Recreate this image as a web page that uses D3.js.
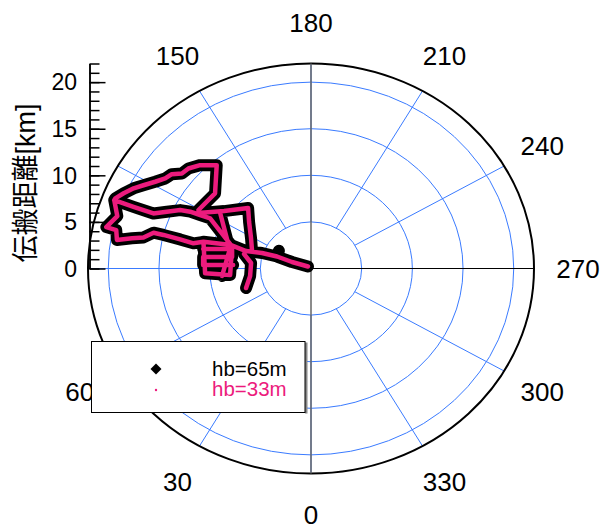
<!DOCTYPE html>
<html>
<head>
<meta charset="utf-8">
<script src="https://cdn.jsdelivr.net/npm/d3@7"></script>
<style>
  body { margin: 0; background: #fff; }
  svg { display: block; font-family: 'Liberation Sans', Arial, sans-serif; }
</style>
</head>
<body>
<div id="grafica"></div>
<script>
// anillos, radios y etiquetas del grafico polar
const ringValues = [5, 10, 15, 20]
const rMax = 22
const spokeAngles = d3.range(0, 360, 30)
const angleLabels = [0, 30, 60, 150, 180, 210, 240, 270, 300, 330]
const radialTicks = [0, 5, 10, 15, 20]
const seriesNames = ['hb=65m', 'hb=33m']
const axisTitle = '伝搬距離[km]'

// recorridos [angulo (grados), distancia (km)], null = corte
const hb65 = [
  [126, 0.37], [110.4, 2.0], [111.0, 3.59], [109.0, 5.11], [106.3, 6.67], [107.7, 8.28], null,
  [111.0, 3.59], [121.0, 3.70], null,
  [103.2, 6.78], [95.7, 5.94], [82.4, 6.06], [71.9, 6.74], null,
  [107.9, 6.11], [118.9, 6.76], [129.2, 7.88], [136.3, 8.98], [125.7, 10.56], [118.1, 12.62], null,
  [119.5, 12.75], [130.4, 12.43], [140.0, 14.47], [135.4, 15.58], [131.6, 16.17], [128.7, 16.32],
  [126.4, 17.06], [123.9, 17.33], [121.2, 17.97], [118.4, 18.79], [116.2, 19.50], [113.6, 20.17],
  [111.3, 20.72], [110.7, 20.75],
  [110.7, 18.72], [110.8, 16.63], [113.2, 15.47], [115.9, 14.35], [117.1, 13.39], [117.7, 12.35],
  [118.4, 11.31], [107.7, 8.28], null,
  [110.7, 20.75], [106.4, 19.92], [102.4, 20.68], [102.1, 19.65], [99.1, 19.39],
  [100.4, 17.96], [101.4, 16.86], [103.9, 16.00], [103.9, 14.99], [103.6, 13.28], [103.1, 11.91],
  [105.1, 10.99], [87.2, 10.46], [85.0, 8.01], [106.5, 8.12], null,
  [105.1, 10.99], [107.7, 8.28], null,
  [101.1, 10.84], [105.0, 8.06], [99.0, 7.88], [96.6, 10.71], [92.0, 10.65], [92.8, 7.69], null,
  [107.7, 8.28], [84.8, 8.81], null,
  [123.6, 10.76], [105.9, 8.40]
]

const hb33 = [
  [126, 0.37], [110.4, 2.0], [111.0, 3.59], [109.0, 5.11], [106.3, 6.67], [107.7, 8.28], null,
  [103.2, 6.78], [95.7, 5.94], [82.4, 6.06], [71.9, 6.74], null,
  [107.9, 6.11], [118.9, 6.76], [129.2, 7.88], [136.3, 8.98], [125.7, 10.56], [118.1, 12.62], null,
  [119.5, 12.75], [130.4, 12.43], [140.0, 14.47], [135.4, 15.58], [131.6, 16.17], [128.7, 16.32],
  [126.4, 17.06], [123.9, 17.33], [121.2, 17.97], [118.4, 18.79], [116.2, 19.50], [113.6, 20.17],
  [111.3, 20.72], [110.7, 20.75],
  [110.7, 18.72], [110.8, 16.63], [113.2, 15.47], [115.9, 14.35], [117.1, 13.39], [117.7, 12.35],
  [118.4, 11.31], [107.7, 8.28], null,
  [110.7, 20.75], [106.4, 19.92], [102.4, 20.68], [102.1, 19.65], [99.1, 19.39],
  [100.4, 17.96], [101.4, 16.86], [103.9, 16.00], [103.9, 14.99], [103.6, 13.28], [103.1, 11.91],
  [105.1, 10.99], [87.2, 10.46], [85.0, 8.01], [106.5, 8.12], null,
  [105.1, 10.99], [107.7, 8.28], null,
  [101.1, 10.84], [105.0, 8.06], [99.0, 7.88], [96.6, 10.71], [92.0, 10.65], [92.8, 7.69], null,
  [107.7, 8.28], [84.8, 8.81], null,
  [123.6, 10.76], [105.9, 8.40]
]

ancho_total = 604
alto_total = 532
cx = 311
cy = 268.5
azul = '#3a7bff'
rosa = '#ec1b7d'

svg = d3.select('#grafica')
  .append('svg')
  .attr('width', ancho_total)
  .attr('height', alto_total)

// escalas radiales (la grafica es algo eliptica)
rx = d3.scaleLinear().domain([0, rMax]).range([0, 223])
ry = d3.scaleLinear().domain([0, rMax]).range([0, 205])
y = d3.scaleLinear().domain([0, rMax]).range([cy, cy - 205])

// angulo 0 abajo, crece en sentido horario
px = (a, r) => cx - Math.sin(a * Math.PI / 180) * rx(r)
py = (a, r) => cy + Math.cos(a * Math.PI / 180) * ry(r)

// etiquetas de angulo
svg.append('g')
  .selectAll('text')
  .data(angleLabels)
  .enter()
  .append('text')
    .attr('x', (d) => cx - Math.sin(d * Math.PI / 180) * 267)
    .attr('y', (d) => cy + Math.cos(d * Math.PI / 180) * 246)
    .attr('dy', '0.36em')
    .attr('text-anchor', 'middle')
    .attr('font-size', '26px')
    .text((d) => d)

grid = svg.append('g')

grid.selectAll('ellipse')
  .data(ringValues)
  .enter()
  .append('ellipse')
    .attr('cx', cx)
    .attr('cy', cy)
    .attr('rx', (d) => rx(d))
    .attr('ry', (d) => ry(d))
    .attr('fill', 'none')
    .attr('stroke', azul)
    .attr('stroke-width', 1)

grid.selectAll('line')
  .data(spokeAngles)
  .enter()
  .append('line')
    .attr('x1', (d) => px(d, ringValues[0]))
    .attr('y1', (d) => py(d, ringValues[0]))
    .attr('x2', (d) => px(d, rMax))
    .attr('y2', (d) => py(d, rMax))
    .attr('stroke', azul)
    .attr('stroke-width', 1)

// borde exterior
svg.append('ellipse')
  .attr('cx', cx)
  .attr('cy', cy)
  .attr('rx', rx(rMax))
  .attr('ry', ry(rMax))
  .attr('fill', 'none')
  .attr('stroke', 'black')
  .attr('stroke-width', 2)

// ejes por el centro
svg.append('line')
  .attr('x1', cx).attr('x2', cx)
  .attr('y1', py(180, rMax)).attr('y2', py(0, rMax))
  .attr('stroke', '#666')
  .attr('stroke-width', 1.5)

svg.append('line')
  .attr('x1', cx).attr('x2', px(270, rMax))
  .attr('y1', cy).attr('y2', cy)
  .attr('stroke', 'black')
  .attr('stroke-width', 1.2)

// eje radial a la izquierda
ejeX = 89.5
yMinor = svg.append('g')
  .attr('transform', `translate(${ejeX},0)`)
  .call(d3.axisRight(y).tickValues(d3.range(0, rMax + 1)).tickSize(10).tickSizeOuter(0).tickFormat(''))
yMajor = svg.append('g')
  .attr('transform', `translate(${ejeX},0)`)
  .call(d3.axisRight(y).tickValues(radialTicks).tickSize(16).tickSizeOuter(0).tickFormat(''))
svg.selectAll('.tick line').attr('stroke', 'black').attr('stroke-width', 1.5)
svg.selectAll('.domain').attr('stroke', 'black').attr('stroke-width', 1.5)

svg.append('g')
  .selectAll('text')
  .data(radialTicks)
  .enter()
  .append('text')
    .attr('x', 77)
    .attr('y', (d) => y(d))
    .attr('dy', '0.36em')
    .attr('text-anchor', 'end')
    .attr('font-size', '23px')
    .text((d) => d)

svg.append('text')
  .attr('transform', 'translate(25,183) rotate(-90)')
  .attr('dy', '0.36em')
  .attr('text-anchor', 'middle')
  .attr('font-size', '27px')
  .attr('font-family', "'Liberation Sans', 'Noto Sans CJK JP', sans-serif")
  .text(axisTitle)

// recorridos
linea = d3.line()
  .defined((d) => d != null)
  .x((d) => px(d[0], d[1]))
  .y((d) => py(d[0], d[1]))

svg.append('path')
  .attr('d', linea(hb65))
  .attr('fill', 'none')
  .attr('stroke', 'black')
  .attr('stroke-width', 12)
  .attr('stroke-linejoin', 'round')
  .attr('stroke-linecap', 'round')

svg.append('path')
  .attr('d', linea(hb33))
  .attr('fill', 'none')
  .attr('stroke', rosa)
  .attr('stroke-width', 4.5)
  .attr('stroke-linejoin', 'round')
  .attr('stroke-linecap', 'round')

// leyenda
leyenda = svg.append('g')
leyenda.append('rect')
  .attr('x', 305).attr('y', 342.5)
  .attr('width', 2.5).attr('height', 71)
  .attr('fill', '#888')
leyenda.append('rect')
  .attr('x', 91.5).attr('y', 341.5)
  .attr('width', 213.5).attr('height', 71)
  .attr('fill', 'white')
  .attr('stroke', 'black')
  .attr('stroke-width', 1)

leyenda.append('path')
  .attr('d', d3.symbol(d3.symbolSquare, 60)())
  .attr('transform', 'translate(156,369) rotate(45)')
  .attr('fill', 'black')
leyenda.append('circle')
  .attr('cx', 156).attr('cy', 390)
  .attr('r', 1.2)
  .attr('fill', rosa)

leyenda.selectAll('text')
  .data(seriesNames)
  .enter()
  .append('text')
    .attr('x', 212)
    .attr('y', (d, i) => 376 + i * 19.5)
    .attr('font-size', '20.5px')
    .attr('fill', (d, i) => i == 0 ? 'black' : rosa)
    .text((d) => d)
</script>
</body>
</html>
